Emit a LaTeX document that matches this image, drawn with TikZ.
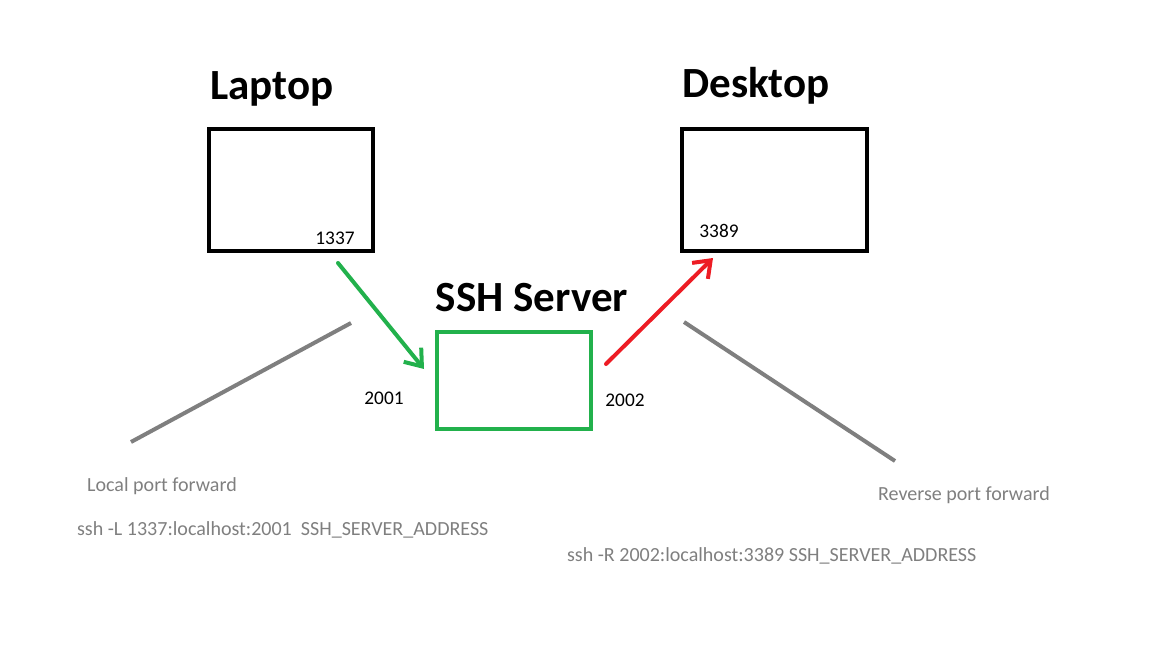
\documentclass[tikz,border=0pt]{standalone}
\usepackage{fontspec}
\setmainfont{Carlito}
\usetikzlibrary{positioning,arrows.meta}
\definecolor{paintgreen}{HTML}{22B14C}
\definecolor{paintred}{HTML}{ED1C24}
\definecolor{paintgray}{HTML}{7F7F7F}

\begin{document}
\begin{tikzpicture}[
    x=0.02cm, y=-0.02cm,
    machine/.style={rectangle, draw, line width=0.08cm, minimum width=3.28cm, minimum height=2.44cm, inner sep=0pt},
    server/.style={machine, draw=paintgreen, minimum width=3.08cm, minimum height=1.94cm},
    title/.style={font=\bfseries\fontsize{24.5}{28}\selectfont},
    port/.style={font=\fontsize{11}{13}\selectfont, inner sep=1pt},
    note/.style={font=\fontsize{11.4}{13}\selectfont, text=paintgray, inner sep=1pt},
    tunnel/.style={line width=0.08cm, line cap=round, -{Straight Barb[length=0.3cm, width=0.45cm, line width=0.08cm]}},
    pointer/.style={line width=0.08cm, draw=paintgray}
]
\useasboundingbox (0,0) rectangle (1152,648);

% Machines
\node[machine] (laptop) at (291,190) {};
\node[machine, minimum width=3.70cm] (desktop) at (774.5,190) {};
\node[server] (server) at (514,380.5) {};

% Titles
\node[title] (laptopT) at (272,89) {Laptop};
\node[title] (desktopT) at (756,86) {Desktop};
\node[title] (serverT) at (532,298) {SSH Server};

% Ports
\node[port] (p1337) at (335,238) {1337};
\node[port] (p3389) at (719,231) {3389};
\node[port] (p2001) at (384,398) {2001};
\node[port] (p2002) at (625,400) {2002};

% Tunnel ends
\coordinate (greenA) at (338,263);
\coordinate (greenB) at (424,369);
\coordinate (redA) at (606,364);
\coordinate (redB) at (713,258);

\draw[tunnel, paintgreen] (greenA) -- (greenB);
\draw[tunnel, paintred] (redA) -- (redB);

% Notes
\node[note] (localN) at (162,486) {Local port forward};
\node[note, anchor=west] (localC) at (75,530) {ssh -L 1337:localhost:2001\ \ SSH\_SERVER\_ADDRESS};
\node[note] (reverseN) at (964,495) {Reverse port forward};
\node[note, anchor=west] (reverseC) at (565,556) {ssh -R 2002:localhost:3389 SSH\_SERVER\_ADDRESS};

% Pointer lines
\coordinate (leftA) at (351,323);
\coordinate (leftB) at (131,442);
\coordinate (rightA) at (684,322);
\coordinate (rightB) at (895,461);
\draw[pointer] (leftA) -- (leftB);
\draw[pointer] (rightA) -- (rightB);

\end{tikzpicture}
\end{document}
